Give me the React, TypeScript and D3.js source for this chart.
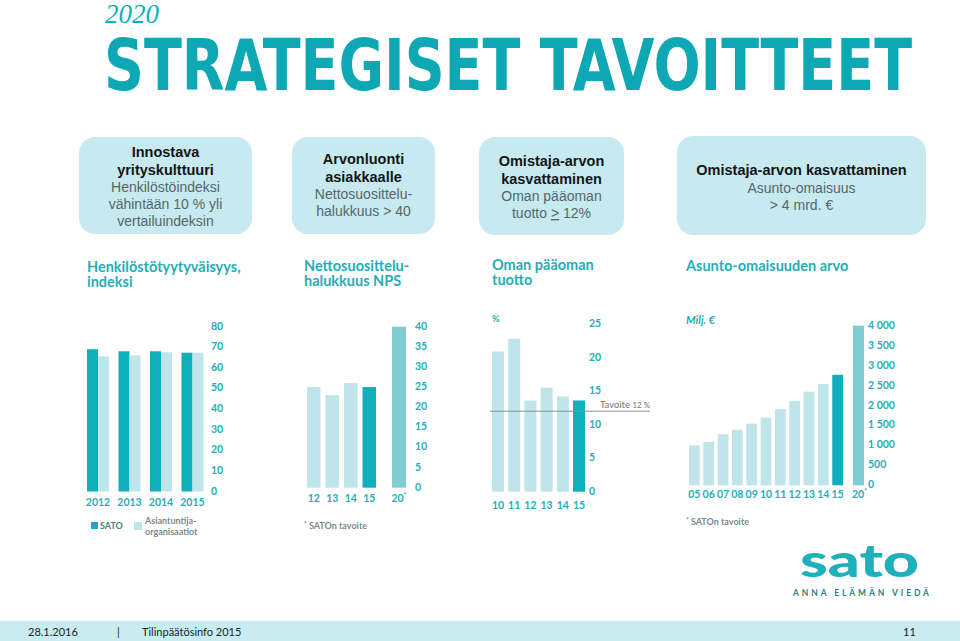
import React from 'react';
import * as d3 from 'd3';

// ---------- data ----------
const staffYears = ['2012', '2013', '2014', '2015'];
const staffSato = [69, 68, 68, 67.3];
const staffPeers = [65.5, 66, 67.5, 67.3];
const staffTicks = [0, 10, 20, 30, 40, 50, 60, 70, 80];
const staffSeries = ['SATO', 'Asiantuntija'];

const npsYears = ['12', '13', '14', '15'];
const npsValues = [25, 23, 26, 25];
const npsTargetLabel = ['20*'];
const npsTarget = [40];
const npsTicks = [0, 5, 10, 15, 20, 25, 30, 35, 40];

const roeYears = ['10', '11', '12', '13', '14', '15'];
const roeValues = [20.9, 22.8, 13.6, 15.5, 14.2, 13.6];
const roeTarget = 12;
const roeTicks = [0, 5, 10, 15, 20, 25];

const assetYears = ['05', '06', '07', '08', '09', '10', '11', '12', '13', '14', '15'];
const assetValues = [1000, 1090, 1280, 1390, 1545, 1695, 1910, 2115, 2345, 2540, 2770];
const assetTargetLabel = ['20*'];
const assetTarget = [4000];
const assetTicks = [0, 500, 1000, 1500, 2000, 2500, 3000, 3500, 4000];

// ---------- styles ----------
const DARK = '#0fb0bc';
const LIGHT = '#bfe4ea';
const MID = '#80ccd5';
const TEAL = '#27adb8';
const BOX = '#c6eaef';
const GEO = 'Lato, "Open Sans", sans-serif';
const ARIAL = '"Liberation Sans", Arial, sans-serif';

const fmt = d3.formatLocale({ decimal: ',', thousands: '\u00a0', grouping: [3], currency: ['', ' €'] }).format(',d');

function YLabels({ ticks, y, x, format }: { ticks: number[]; y: d3.ScaleLinear<number, number>; x: number; format?: (v: number) => string }) {
  return (
    <g>
      {ticks.map((t) => (
        <text key={t} x={x} y={y(t) - 1} dominantBaseline="central" fontFamily={GEO} fontWeight={700} fontSize={10.5} fill={TEAL}>
          {format ? format(t) : String(t)}
        </text>
      ))}
    </g>
  );
}

function XLabel({ x, y, label }: { x: number; y: number; label: string }) {
  const star = label.endsWith('*');
  const base = star ? label.slice(0, -1) : label;
  return (
    <text x={x} y={y} textAnchor="middle" fontFamily={GEO} fontWeight={700} fontSize={10.5} fill={TEAL}>
      {base}
      {star && <tspan fontSize={7} dy={-4}>*</tspan>}
    </text>
  );
}

function Title({ x, y, lines }: { x: number; y: number; lines: string[] }) {
  return (
    <g>
      {lines.map((l, i) => (
        <text key={i} x={x} y={y + i * 14.5} fontFamily={GEO} fontWeight={700} fontSize={14.5} fill={TEAL}>
          {l}
        </text>
      ))}
    </g>
  );
}

function Box({ x, y, w, h, bold, normal, top, underlineLast }: { x: number; y: number; w: number; h: number; bold: string[]; normal: string[]; top: number; underlineLast?: boolean }) {
  const cx = x + w / 2;
  return (
    <g>
      <rect x={x} y={y} width={w} height={h} rx={16} ry={16} fill={BOX} />
      {bold.map((t, i) => (
        <text key={'b' + i} x={cx} y={top + i * 17.5} textAnchor="middle" fontFamily={ARIAL} fontWeight={700} fontSize={14.5} fill="#151515">
          {t}
        </text>
      ))}
      {normal.map((t, i) => (
        <text key={'n' + i} x={cx} y={top + bold.length * 17.5 + i * 17} textAnchor="middle" fontFamily={ARIAL} fontSize={14} fill="#56666b">
          {underlineLast && i === normal.length - 1 ? (
            <>
              {'tuotto '}
              <tspan textDecoration="underline">{'>'}</tspan>
              {' 12%'}
            </>
          ) : (
            t
          )}
        </text>
      ))}
    </g>
  );
}

function StaffChart() {
  const x = d3.scaleBand<string>().domain(staffYears).range([87, 203.5]).paddingInner(0.3).paddingOuter(0);
  const xi = d3.scaleBand<string>().domain(staffSeries).range([0, x.bandwidth()]);
  const y = d3.scaleLinear().domain([0, 80]).range([491.5, 326.5]);
  return (
    <g>
      <Title x={87} y={272} lines={['Henkilöstötyytyväisyys,', 'indeksi']} />
      {staffYears.map((yr, i) => (
        <g key={yr}>
          <rect x={x(yr)! + xi('SATO')!} y={y(staffSato[i])} width={xi.bandwidth()} height={y(0) - y(staffSato[i])} fill={DARK} />
          <rect x={x(yr)! + xi('Asiantuntija')!} y={y(staffPeers[i])} width={xi.bandwidth()} height={y(0) - y(staffPeers[i])} fill={LIGHT} />
          <XLabel x={x(yr)! + x.bandwidth() / 2} y={506} label={yr} />
        </g>
      ))}
      <YLabels ticks={staffTicks} y={y} x={211} />
      <rect x={91} y={522} width={7} height={7} fill={DARK} />
      <text x={100} y={529} fontFamily={GEO} fontWeight={700} fontSize={9} fill="#4d7a80">SATO</text>
      <rect x={134} y={522} width={8} height={8} fill={LIGHT} />
      <text x={145} y={524} fontFamily={GEO} fontWeight={700} fontSize={9} fill="#7a8a8e">Asiantuntija-</text>
      <text x={145} y={535} fontFamily={GEO} fontWeight={700} fontSize={9} fill="#7a8a8e">organisaatiot</text>
    </g>
  );
}

function NpsChart() {
  const x = d3.scaleBand<string>().domain(npsYears).range([307, 376]).paddingInner(0.27).paddingOuter(0);
  const xt = d3.scaleBand<string>().domain(npsTargetLabel).range([392, 406]);
  const y = d3.scaleLinear().domain([0, 40]).range([487.7, 326.7]);
  return (
    <g>
      <Title x={304} y={271} lines={['Nettosuosittelu-', 'halukkuus NPS']} />
      {npsYears.map((yr, i) => (
        <g key={yr}>
          <rect x={x(yr)!} y={y(npsValues[i])} width={x.bandwidth()} height={y(0) - y(npsValues[i])} fill={i === npsYears.length - 1 ? DARK : LIGHT} />
          <XLabel x={x(yr)! + x.bandwidth() / 2} y={502} label={yr} />
        </g>
      ))}
      {npsTargetLabel.map((lb, i) => (
        <g key={lb}>
          <rect x={xt(lb)!} y={y(npsTarget[i])} width={xt.bandwidth()} height={y(0) - y(npsTarget[i])} fill={MID} />
          <XLabel x={xt(lb)! + xt.bandwidth() / 2} y={502} label={lb} />
        </g>
      ))}
      <YLabels ticks={npsTicks} y={y} x={415} />
      <text x={304} y={529} fontFamily={GEO} fontWeight={700} fontSize={9} fill="#7a8a8e">
        <tspan fontSize={6.5} dy={-2}>*</tspan>
        <tspan dy={2}> SATOn tavoite</tspan>
      </text>
    </g>
  );
}

function RoeChart() {
  const x = d3.scaleBand<string>().domain(roeYears).range([492, 585]).paddingInner(0.26).paddingOuter(0);
  const y = d3.scaleLinear().domain([0, 25]).range([491.7, 324]);
  return (
    <g>
      <Title x={492} y={270} lines={['Oman pääoman', 'tuotto']} />
      <text x={492} y={322} fontFamily={GEO} fontWeight={700} fontSize={9.5} fill={TEAL}>%</text>
      {roeYears.map((yr, i) => (
        <g key={yr}>
          <rect x={x(yr)!} y={y(roeValues[i])} width={x.bandwidth()} height={y(0) - y(roeValues[i])} fill={i === roeYears.length - 1 ? DARK : LIGHT} />
          <XLabel x={x(yr)! + x.bandwidth() / 2} y={509} label={yr} />
        </g>
      ))}
      <line x1={490} x2={650} y1={y(roeTarget)} y2={y(roeTarget)} stroke="#8a8f90" strokeWidth={1} />
      <text x={600} y={408} fontFamily={GEO} fontSize={9.5} fill="#707577">
        Tavoite <tspan fontSize={8}>{roeTarget} %</tspan>
      </text>
      <YLabels ticks={roeTicks} y={y} x={589} />
    </g>
  );
}

function AssetChart() {
  const x = d3.scaleBand<string>().domain(assetYears).range([689, 843]).paddingInner(0.25).paddingOuter(0);
  const xt = d3.scaleBand<string>().domain(assetTargetLabel).range([853, 864]);
  const y = d3.scaleLinear().domain([0, 4000]).range([485.3, 325.7]);
  return (
    <g>
      <Title x={686} y={271} lines={['Asunto-omaisuuden arvo']} />
      <text x={686} y={324} fontFamily={GEO} fontWeight={700} fontStyle="italic" fontSize={11} fill={TEAL}>Milj. €</text>
      {assetYears.map((yr, i) => (
        <g key={yr}>
          <rect x={x(yr)!} y={y(assetValues[i])} width={x.bandwidth()} height={y(0) - y(assetValues[i])} fill={i === assetYears.length - 1 ? DARK : LIGHT} />
          <XLabel x={x(yr)! + x.bandwidth() / 2} y={498} label={yr} />
        </g>
      ))}
      {assetTargetLabel.map((lb, i) => (
        <g key={lb}>
          <rect x={xt(lb)!} y={y(assetTarget[i])} width={xt.bandwidth()} height={y(0) - y(assetTarget[i])} fill={MID} />
          <XLabel x={xt(lb)! + xt.bandwidth() / 2 + 1} y={498} label={lb} />
        </g>
      ))}
      <YLabels ticks={assetTicks} y={y} x={868} format={fmt} />
      <text x={686} y={525} fontFamily={GEO} fontWeight={700} fontSize={9} fill="#7a8a8e">
        <tspan fontSize={6.5} dy={-2}>*</tspan>
        <tspan dy={2}> SATOn tavoite</tspan>
      </text>
    </g>
  );
}

export default function App() {
  return (
    <svg width={960} height={641} style={{ position: 'absolute', left: 0, top: 0, display: 'block', background: '#fff' }}>
      <rect x={0} y={0} width={960} height={641} fill="#fff" />
      <text x={105} y={23} fontFamily='"Liberation Serif", serif' fontStyle="italic" fontSize={27} fill={DARK}>2020</text>
      <g transform="translate(104,90) scale(1,1.16)">
        <text x={0} y={0} fontFamily='"DejaVu Sans Condensed", "Liberation Sans Narrow", sans-serif' fontWeight={700} fontSize={62} fill="#0ea8b5" textLength={808} lengthAdjust="spacingAndGlyphs">
          STRATEGISET TAVOITTEET
        </text>
      </g>

      <Box x={79} y={137} w={173} h={97} bold={['Innostava', 'yrityskulttuuri']} normal={['Henkilöstöindeksi', 'vähintään 10 % yli', 'vertailuindeksin']} top={157} />
      <Box x={292} y={137} w={143} h={97} bold={['Arvonluonti', 'asiakkaalle']} normal={['Nettosuosittelu-', 'halukkuus > 40']} top={164} />
      <Box x={479} y={137} w={145} h={98} bold={['Omistaja-arvon', 'kasvattaminen']} normal={['Oman pääoman', 'tuotto > 12%']} top={166} underlineLast />
      <Box x={677} y={136} w={249} h={99} bold={['Omistaja-arvon kasvattaminen']} normal={['Asunto-omaisuus', '> 4 mrd. €']} top={175} />

      <StaffChart />
      <NpsChart />
      <RoeChart />
      <AssetChart />

      <text x={800} y={577} fontFamily={GEO} fontWeight={900} fontSize={46} fill="#1fb0bb" textLength={119} lengthAdjust="spacingAndGlyphs">sato</text>
      <text x={793} y={596} fontFamily={GEO} fontWeight={700} fontSize={8.5} fill="#2f7f88" textLength={136} lengthAdjust="spacing">ANNA ELÄMÄN VIEDÄ</text>

      <rect x={0} y={621} width={960} height={20} fill="#c8ecf0" />
      <text x={28} y={636} fontFamily={GEO} fontSize={11} fill="#222">28.1.2016</text>
      <text x={117} y={636} fontFamily={GEO} fontSize={11} fill="#222">|</text>
      <text x={142} y={636} fontFamily={GEO} fontSize={11} fill="#222">Tilinpäätösinfo 2015</text>
      <text x={903} y={636} fontFamily={GEO} fontSize={11} fill="#222">11</text>
    </svg>
  );
}
